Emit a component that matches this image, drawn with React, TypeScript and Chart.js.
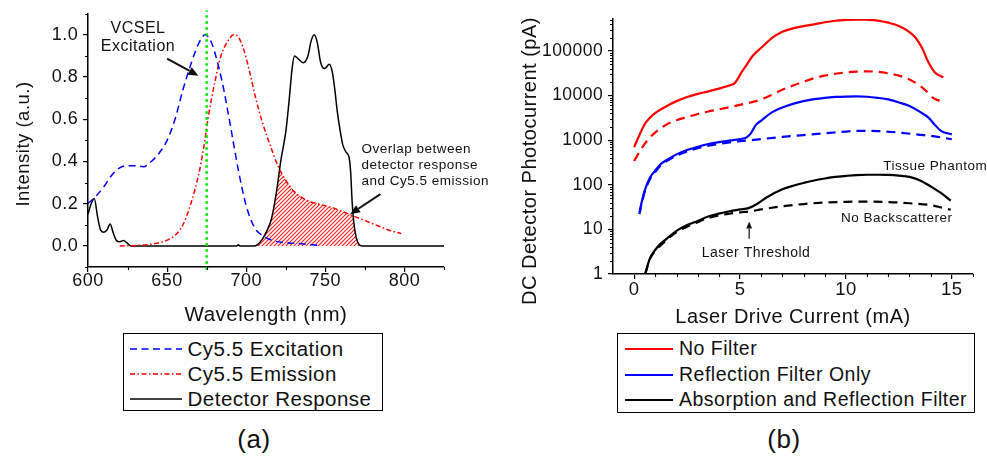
import React, { useEffect, useRef } from 'react';
import { Chart, registerables } from 'chart.js';

Chart.register(...registerables);

const FONT = '"Liberation Sans", Arial, Helvetica, sans-serif';
const INK = '#111';
Chart.defaults.font.family = FONT;
Chart.defaults.color = INK;

// ---------------- Panel (a) data ----------------
const aExcLabel = 'Cy5.5 Excitation';
const aEmLabel = 'Cy5.5 Emission';
const aDetLabel = 'Detector Response';

const aExcWl = [600, 605, 610, 615, 620, 625, 630, 635, 640, 645, 650, 655, 660, 665, 670, 674, 677, 680, 685, 690, 695, 700, 705, 710, 717, 725, 735, 745];
const aExcVal = [0.2, 0.235, 0.28, 0.335, 0.37, 0.38, 0.38, 0.375, 0.4, 0.44, 0.5, 0.6, 0.74, 0.86, 0.96, 1.0, 0.98, 0.92, 0.77, 0.57, 0.36, 0.19, 0.09, 0.05, 0.025, 0.015, 0.01, 0.003];

const aEmWl = [620, 630, 640, 645, 650, 655, 660, 665, 670, 673, 676, 680, 684, 688, 692, 695, 698, 702, 706, 710, 715, 720, 725, 730, 735, 740, 745, 750, 755, 760, 765, 770, 775, 780, 785, 790, 798];
const aEmVal = [0, 0.002, 0.008, 0.015, 0.027, 0.05, 0.1, 0.2, 0.34, 0.46, 0.61, 0.77, 0.9, 0.965, 1.0, 0.99, 0.94, 0.83, 0.7, 0.59, 0.48, 0.38, 0.31, 0.26, 0.23, 0.21, 0.2, 0.19, 0.18, 0.165, 0.15, 0.135, 0.12, 0.105, 0.09, 0.075, 0.058];

const aDetWl = [600, 602, 604, 606, 608, 610, 612, 614, 616, 618, 620, 622.5, 624.5, 627, 650, 694, 695, 696, 705, 707, 710, 713, 716, 719, 722, 725, 727, 729, 730.5, 733, 736, 739, 741, 743, 745, 747, 749.5, 752.5, 754.5, 756, 757.5, 759.5, 761, 763, 765, 766, 767, 768, 769.5, 771, 773, 800, 825];
const aDetVal = [0.15, 0.2, 0.225, 0.14, 0.075, 0.065, 0.075, 0.104, 0.06, 0.025, 0.02, 0.025, 0.015, 0, 0, 0, 0.005, 0, 0, 0.005, 0.03, 0.07, 0.13, 0.25, 0.41, 0.54, 0.68, 0.84, 0.9, 0.885, 0.868, 0.9, 0.97, 1.0, 0.96, 0.87, 0.84, 0.86, 0.82, 0.74, 0.64, 0.54, 0.48, 0.445, 0.42, 0.35, 0.2, 0.11, 0.04, 0.01, 0, 0, 0];

const aVcselWl = 675;
const aXTicks = [600, 650, 700, 750, 800];
const aXMinor = [625, 675, 725, 775, 825];
const aYTicks = [0, 0.2, 0.4, 0.6, 0.8, 1.0];
const aYMinor = [-0.1, 0.1, 0.3, 0.5, 0.7, 0.9, 1.1];

// ---------------- Panel (b) data ----------------
const bLabels = ['No Filter', 'Reflection Filter Only', 'Absorption and Reflection Filter'];

const bRedSolidI = [0, 0.25, 0.5, 0.75, 1, 1.5, 2, 2.5, 3, 3.5, 4, 4.5, 4.75, 4.9, 5.05, 5.3, 5.6, 6, 6.5, 7, 7.5, 8, 8.5, 9, 9.5, 10, 10.5, 11, 11.5, 12, 12.5, 13, 13.3, 13.6, 13.9, 14.2, 14.6];
const bRedSolidV = [700, 1300, 2300, 3200, 4100, 5700, 7500, 9300, 10900, 12400, 14300, 16800, 19000, 24000, 32000, 48000, 78000, 118000, 195000, 270000, 320000, 360000, 395000, 440000, 475000, 495000, 505000, 500000, 480000, 430000, 363000, 265000, 195000, 115000, 55000, 33000, 25500];

const bRedDashI = [0, 0.28, 0.6, 1, 1.5, 2, 2.5, 3, 3.5, 4, 4.5, 5, 5.5, 6, 6.5, 7, 7.5, 8, 8.5, 9, 9.5, 10, 10.5, 11, 11.5, 12, 12.5, 13, 13.5, 13.8, 14.1, 14.3, 14.55];
const bRedDashV = [340, 580, 960, 1500, 2200, 2800, 3300, 3850, 4400, 4900, 5500, 6200, 7000, 8200, 10400, 13500, 16800, 20500, 24500, 28000, 30800, 33000, 34300, 34800, 34000, 31500, 28000, 23000, 16500, 12500, 9000, 8000, 7500];

const bBlueSolidI = [0.25, 0.35, 0.5, 0.75, 1, 1.25, 1.5, 2, 2.5, 3, 3.5, 4, 4.5, 5, 5.3, 5.5, 5.75, 6, 6.5, 7, 7.5, 8, 8.5, 9, 9.5, 10, 10.5, 11, 11.5, 12, 12.5, 13, 13.5, 13.9, 14.2, 14.5, 15];
const bBlueSolidV = [24, 40, 75, 145, 210, 290, 350, 480, 600, 710, 820, 900, 980, 1060, 1150, 1400, 2200, 2750, 4200, 5400, 6500, 7500, 8300, 8900, 9300, 9500, 9550, 9400, 8900, 8200, 7000, 5800, 4300, 3200, 2200, 1600, 1350];

const bBlueDashI = [0.25, 0.35, 0.5, 0.75, 1, 1.25, 1.5, 2, 2.5, 3, 3.5, 4, 4.5, 5, 5.5, 6, 7, 8, 9, 10, 10.6, 11.5, 12.5, 13.5, 14.1, 15];
const bBlueDashV = [22, 37, 70, 135, 195, 270, 330, 450, 560, 660, 750, 820, 890, 950, 1000, 1060, 1180, 1300, 1420, 1560, 1620, 1600, 1480, 1320, 1230, 1050];

const bBlackSolidI = [0.52, 0.75, 1, 1.25, 1.5, 2, 2.5, 3, 3.5, 4, 4.5, 5, 5.4, 5.8, 6.25, 7, 7.5, 8, 8.5, 9, 9.5, 10, 10.5, 11, 11.5, 12, 12.5, 13, 13.5, 14, 14.5, 14.95];
const bBlackSolidV = [1, 2.3, 3.5, 4.8, 6, 9.3, 12.5, 15.5, 19.5, 22.5, 25.5, 28, 30, 37, 52, 79, 95, 110, 125, 138, 150, 158, 165, 168, 168, 166, 160, 150, 125, 92, 65, 44];

const bBlackDashI = [0.52, 0.75, 1, 1.5, 2, 2.5, 3, 3.5, 4, 4.5, 5, 5.5, 6, 7, 8, 9, 10, 11, 12, 12.5, 13, 14, 14.5, 14.95];
const bBlackDashV = [1, 2.2, 3.3, 5.6, 8.7, 11.5, 14.5, 18, 20.5, 22.5, 24, 25.5, 28, 33, 37, 40, 41.5, 42, 41, 40, 38.5, 35, 31, 27.5];

const bXTicks = [0, 5, 10, 15];
const bXMinor = [1, 2, 3, 4, 6, 7, 8, 9, 11, 12, 13, 14, 16];
const bYTicks = [1, 10, 100, 1000, 10000, 100000];
const bYMax = 520000;

function pts(xs: number[], ys: number[]) {
  return xs.map((x, i) => ({ x, y: ys[i] }));
}

function logMinor(max: number) {
  const out: number[] = [];
  for (let d = 1; d <= 100000; d *= 10) {
    for (let m = 2; m <= 9; m++) if (m * d <= max) out.push(m * d);
  }
  return out;
}

// ---------------- plugins ----------------
const spacingPlugin = {
  id: 'letterSpacing',
  beforeInit(chart: any) { chart.ctx.letterSpacing = '0.5px'; },
  beforeUpdate(chart: any) { chart.ctx.letterSpacing = '0.5px'; },
  beforeDraw(chart: any) { chart.ctx.letterSpacing = '0.5px'; },
};

function minorTicksPlugin(xVals: number[], yVals: number[], len: number) {
  return {
    id: 'minorTicks',
    afterDraw(chart: any) {
      const { ctx } = chart;
      const xs = chart.scales.x, ys = chart.scales.y;
      ctx.save();
      ctx.strokeStyle = '#000';
      ctx.lineWidth = 1.1;
      ctx.beginPath();
      for (const v of xVals) {
        const p = Math.round(xs.getPixelForValue(v)) + 0.5;
        ctx.moveTo(p, xs.top);
        ctx.lineTo(p, xs.top + len);
      }
      for (const v of yVals) {
        const p = Math.round(ys.getPixelForValue(v)) + 0.5;
        ctx.moveTo(ys.right, p);
        ctx.lineTo(ys.right - len, p);
      }
      ctx.stroke();
      ctx.restore();
    },
  };
}

function titlesPlugin(items: any[]) {
  return {
    id: 'axisTitles',
    afterDraw(chart: any) {
      const { ctx } = chart;
      for (const t of items) {
        ctx.save();
        ctx.fillStyle = INK;
        ctx.font = `${t.size}px ${FONT}`;
        ctx.textAlign = 'center';
        ctx.textBaseline = 'middle';
        ctx.translate(t.x, t.y);
        if (t.rot) ctx.rotate(t.rot);
        ctx.fillText(t.text, 0, 0);
        ctx.restore();
      }
    },
  };
}

function annotPlugin(texts: any[], arrows: any[]) {
  return {
    id: 'annot',
    afterDatasetsDraw(chart: any) {
      const { ctx } = chart;
      const xs = chart.scales.x, ys = chart.scales.y;
      ctx.save();
      ctx.fillStyle = INK;
      ctx.strokeStyle = INK;
      for (const t of texts) {
        ctx.font = `${t.size}px ${FONT}`;
        ctx.textAlign = t.align;
        ctx.textBaseline = 'middle';
        ctx.fillText(t.text, xs.getPixelForValue(t.x), ys.getPixelForValue(t.y));
      }
      for (const a of arrows) {
        const x1 = xs.getPixelForValue(a.x1), y1 = ys.getPixelForValue(a.y1);
        const x2 = xs.getPixelForValue(a.x2), y2 = ys.getPixelForValue(a.y2);
        const ang = Math.atan2(y2 - y1, x2 - x1);
        const hl = a.head, hw = a.head * 0.42;
        const bx = x2 - hl * Math.cos(ang), by = y2 - hl * Math.sin(ang);
        ctx.lineWidth = a.width;
        ctx.beginPath();
        ctx.moveTo(x1, y1);
        ctx.lineTo(bx, by);
        ctx.stroke();
        ctx.beginPath();
        ctx.moveTo(x2, y2);
        ctx.lineTo(bx - hw * Math.sin(ang), by + hw * Math.cos(ang));
        ctx.lineTo(bx + hw * Math.sin(ang), by - hw * Math.cos(ang));
        ctx.closePath();
        ctx.fill();
      }
      ctx.restore();
    },
  };
}

const hatchPlugin = {
  id: 'overlapHatch',
  beforeDatasetsDraw(chart: any) {
    const ctx = chart.ctx;
    const ds = chart.data.datasets;
    const iDet = ds.findIndex((d: any) => d.label === aDetLabel);
    const iEm = ds.findIndex((d: any) => d.label === aEmLabel);
    const det = chart.getDatasetMeta(iDet).data;
    const em = chart.getDatasetMeta(iEm).data;
    const base = chart.scales.y.getPixelForValue(0);
    const tile = document.createElement('canvas');
    tile.width = 4;
    tile.height = 4;
    const t = tile.getContext('2d') as CanvasRenderingContext2D;
    t.strokeStyle = '#ff1a1a';
    t.lineWidth = 1.1;
    t.beginPath();
    t.moveTo(-1, 5); t.lineTo(5, -1);
    t.moveTo(3, 5); t.lineTo(5, 3);
    t.moveTo(-1, 1); t.lineTo(1, -1);
    t.stroke();
    const pat = ctx.createPattern(tile, 'repeat');
    const a = chart.chartArea;
    ctx.save();
    ctx.beginPath();
    ctx.rect(a.left, a.top, a.right - a.left, a.bottom - a.top);
    ctx.clip();
    ctx.beginPath();
    ctx.moveTo(det[0].x, base);
    det.forEach((p: any) => ctx.lineTo(p.x, p.y));
    ctx.lineTo(det[det.length - 1].x, base);
    ctx.closePath();
    ctx.clip();
    ctx.beginPath();
    ctx.moveTo(em[0].x, base);
    em.forEach((p: any) => ctx.lineTo(p.x, p.y));
    ctx.lineTo(em[em.length - 1].x, base);
    ctx.closePath();
    ctx.fillStyle = pat;
    ctx.fill();
    ctx.restore();
  },
};

function axisCommon(size: number, pad: number) {
  return {
    ticks: { font: { size, lineHeight: 1 }, color: INK, padding: pad, autoSkip: false, maxRotation: 0, minRotation: 0 },
    grid: { display: true, drawOnChartArea: false, drawTicks: true, tickLength: 5, color: '#000', lineWidth: 1.2 },
    border: { display: true, color: '#000', width: 1.5 },
  };
}

function setTicks(values: number[]) {
  return (scale: any) => {
    scale.ticks = values.map((v) => ({ value: v }));
  };
}

// ---------------- component ----------------
function LegendRow(props: any) {
  const { cy, x0, x1, textX, label, color, dash, width, size } = props;
  return (
    <>
      <svg style={{ position: 'absolute', left: x0, top: cy - 4, overflow: 'visible' }} width={x1 - x0} height={8}>
        <line x1={0} y1={4} x2={x1 - x0} y2={4} stroke={color} strokeWidth={width} strokeDasharray={dash} />
      </svg>
      <div style={{ position: 'absolute', left: textX, top: cy - size * 0.6, fontSize: size, lineHeight: `${size * 1.2}px`, whiteSpace: 'nowrap' }}>
        {label}
      </div>
    </>
  );
}

export default function App() {
  const aRef = useRef<HTMLCanvasElement>(null);
  const bRef = useRef<HTMLCanvasElement>(null);

  useEffect(() => {
    const chartA = new Chart(aRef.current as HTMLCanvasElement, {
      type: 'line',
      data: {
        datasets: [
          {
            label: 'VCSEL',
            data: [{ x: aVcselWl, y: -0.113 }, { x: aVcselWl, y: 1.115 }],
            borderColor: '#00e600',
            borderWidth: 2.6,
            borderDash: [2.5, 3.5],
            pointRadius: 0,
            clip: false as any,
          },
          {
            label: aExcLabel,
            data: pts(aExcWl, aExcVal),
            borderColor: '#0000ff',
            borderWidth: 1.5,
            borderDash: [7, 4.5],
            pointRadius: 0,
            cubicInterpolationMode: 'monotone',
          },
          {
            label: aEmLabel,
            data: pts(aEmWl, aEmVal),
            borderColor: '#ff0000',
            borderWidth: 1.5,
            borderDash: [5, 2.5, 1.5, 2.5],
            pointRadius: 0,
            cubicInterpolationMode: 'monotone',
          },
          {
            label: aDetLabel,
            data: pts(aDetWl, aDetVal),
            borderColor: '#000000',
            borderWidth: 1.5,
            pointRadius: 0,
            cubicInterpolationMode: 'monotone',
          },
        ],
      },
      options: {
        responsive: false,
        animation: false,
        devicePixelRatio: 1,
        events: [],
        layout: { padding: { top: 9.5, right: 56, left: 0, bottom: 0 } },
        plugins: { legend: { display: false }, tooltip: { enabled: false } },
        scales: {
          x: {
            type: 'linear',
            min: 600,
            max: 825,
            ...axisCommon(18, 0),
            afterBuildTicks: setTicks(aXTicks),
            afterFit: (s: any) => { s.height = 63; },
            ticks: { ...axisCommon(18, 0).ticks, callback: (v: any) => String(v) },
          },
          y: {
            type: 'linear',
            min: -0.1,
            max: 1.1,
            ...axisCommon(18, 4.7),
            afterBuildTicks: setTicks(aYTicks),
            afterFit: (s: any) => { s.width = 88; },
            ticks: { ...axisCommon(18, 4.7).ticks, callback: (v: any) => Number(v).toFixed(1) },
          },
        },
      } as any,
      plugins: [
        spacingPlugin,
        hatchPlugin,
        minorTicksPlugin(aXMinor, aYMinor, 3),
        titlesPlugin([
          { text: 'Intensity (a.u.)', x: 24, y: 144, rot: -Math.PI / 2, size: 18.5 },
          { text: 'Wavelength (nm)', x: 266, y: 315, rot: 0, size: 20.5 },
        ]),
        annotPlugin(
          [
            { text: 'VCSEL', x: 631.6, y: 1.031, align: 'center', size: 16 },
            { text: 'Excitation', x: 631.6, y: 0.943, align: 'center', size: 16 },
            { text: 'Overlap between', x: 772.8, y: 0.459, align: 'left', size: 13.5 },
            { text: 'detector response', x: 772.8, y: 0.382, align: 'left', size: 13.5 },
            { text: 'and Cy5.5 emission', x: 772.8, y: 0.306, align: 'left', size: 13.5 },
          ],
          [
            { x1: 650, y1: 0.887, x2: 669.8, y2: 0.806, width: 2, head: 10 },
            { x1: 784.8, y1: 0.245, x2: 765.6, y2: 0.15, width: 2, head: 10 },
          ]
        ),
      ],
    });

    const chartB = new Chart(bRef.current as HTMLCanvasElement, {
      type: 'line',
      data: {
        datasets: [
          { label: bLabels[0], data: pts(bRedSolidI, bRedSolidV), borderColor: '#ff0000', borderWidth: 2.2, pointRadius: 0, cubicInterpolationMode: 'monotone' },
          { label: bLabels[0] + ' (no backscatterer)', data: pts(bRedDashI, bRedDashV), borderColor: '#ff0000', borderWidth: 2.2, borderDash: [9, 6], pointRadius: 0, cubicInterpolationMode: 'monotone' },
          { label: bLabels[1], data: pts(bBlueSolidI, bBlueSolidV), borderColor: '#0000ff', borderWidth: 2.2, pointRadius: 0, cubicInterpolationMode: 'monotone' },
          { label: bLabels[1] + ' (no backscatterer)', data: pts(bBlueDashI, bBlueDashV), borderColor: '#0000ff', borderWidth: 2.2, borderDash: [9, 6], pointRadius: 0, cubicInterpolationMode: 'monotone' },
          { label: bLabels[2], data: pts(bBlackSolidI, bBlackSolidV), borderColor: '#000000', borderWidth: 2.2, pointRadius: 0, cubicInterpolationMode: 'monotone' },
          { label: bLabels[2] + ' (no backscatterer)', data: pts(bBlackDashI, bBlackDashV), borderColor: '#000000', borderWidth: 2.2, borderDash: [9, 6], pointRadius: 0, cubicInterpolationMode: 'monotone' },
        ],
      },
      options: {
        responsive: false,
        animation: false,
        devicePixelRatio: 1,
        events: [],
        layout: { padding: { top: 19, right: 14, left: 0, bottom: 0 } },
        plugins: { legend: { display: false }, tooltip: { enabled: false } },
        scales: {
          x: {
            type: 'linear',
            min: -1,
            max: 16,
            ...axisCommon(18.5, 2),
            afterBuildTicks: setTicks(bXTicks),
            afterFit: (s: any) => { s.height = 56; },
            ticks: { ...axisCommon(18.5, 2).ticks, callback: (v: any) => String(v) },
          },
          y: {
            type: 'logarithmic',
            min: 1,
            max: bYMax,
            ...axisCommon(17.5, 4.7),
            afterBuildTicks: setTicks(bYTicks),
            afterFit: (s: any) => { s.width = 113; },
            ticks: { ...axisCommon(17.5, 4.7).ticks, callback: (v: any) => String(v) },
          },
        },
      } as any,
      plugins: [
        spacingPlugin,
        minorTicksPlugin(bXMinor, logMinor(bYMax), 3),
        titlesPlugin([
          { text: 'DC Detector Photocurrent (pA)', x: 30, y: 161, rot: -Math.PI / 2, size: 20 },
          { text: 'Laser Drive Current (mA)', x: 293, y: 317, rot: 0, size: 20 },
        ]),
        annotPlugin(
          [
            { text: 'Tissue Phantom', x: 11.76, y: 266, align: 'left', size: 13.5 },
            { text: 'No Backscatterer', x: 9.77, y: 17.3, align: 'left', size: 13.5 },
            { text: 'Laser Threshold', x: 3.19, y: 2.89, align: 'left', size: 14 },
          ],
          [{ x1: 5.43, y1: 6.2, x2: 5.43, y2: 15, width: 1.2, head: 7 }]
        ),
      ],
    });

    return () => {
      chartA.destroy();
      chartB.destroy();
    };
  }, []);

  const legendA = [
    { label: aExcLabel, color: '#0000ff', dash: '7 4.5', cy: 349.3 },
    { label: aEmLabel, color: '#ff0000', dash: '5 2.5 1.5 2.5', cy: 374 },
    { label: aDetLabel, color: '#000000', dash: undefined, cy: 399 },
  ];
  const legendB = [
    { label: bLabels[0], color: '#ff0000', cy: 348.5 },
    { label: bLabels[1], color: '#0000ff', cy: 374.5 },
    { label: bLabels[2], color: '#000000', cy: 399.5 },
  ];

  return (
    <div style={{ position: 'absolute', left: 0, top: 0, width: 987, height: 457, background: '#fff', fontFamily: FONT, color: INK, letterSpacing: '0.5px', overflow: 'hidden' }}>
      <canvas ref={aRef} width={500} height={330} style={{ position: 'absolute', left: 0, top: 0 }} />
      <canvas ref={bRef} width={487} height={330} style={{ position: 'absolute', left: 500, top: 0 }} />

      <div style={{ position: 'absolute', left: 123, top: 333, width: 260, height: 78, border: '1px solid #000', boxSizing: 'border-box' }} />
      {legendA.map((r) => (
        <LegendRow key={r.label} cy={r.cy} x0={130} x1={182} textX={187.5} label={r.label} color={r.color} dash={r.dash} width={1.5} size={20.5} />
      ))}

      <div style={{ position: 'absolute', left: 617, top: 333, width: 358, height: 80, border: '1px solid #000', boxSizing: 'border-box' }} />
      {legendB.map((r) => (
        <LegendRow key={r.label} cy={r.cy} x0={625} x1={673} textX={679} label={r.label} color={r.color} width={2} size={19.5} />
      ))}

      <div style={{ position: 'absolute', left: 204, width: 100, top: 424, textAlign: 'center', fontSize: 26, lineHeight: '31px' }}>(a)</div>
      <div style={{ position: 'absolute', left: 734, width: 100, top: 424, textAlign: 'center', fontSize: 26, lineHeight: '31px' }}>(b)</div>
    </div>
  );
}
